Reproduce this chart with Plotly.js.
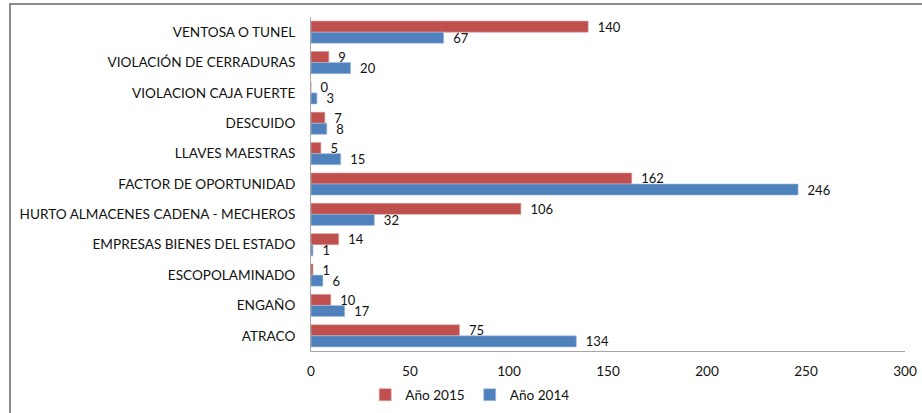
<!DOCTYPE html>
<html>
<head>
<meta charset="utf-8">
<script src="https://cdn.plot.ly/plotly-3.0.1.min.js"></script>
<style>
  html, body { margin: 0; padding: 0; background: #fff; }
  #wrap { position: absolute; left: 0; top: 0; width: 922px; height: 413px; }
  #frame { position: absolute; left: 9px; top: 3px; width: 940px; height: 440px;
           border-left: 2px solid #8a8a8a; border-top: 2px solid #8a8a8a; pointer-events: none; }
  #chart { position: absolute; left: 0; top: 0; width: 922px; height: 413px; }
</style>
</head>
<body>
<div id="wrap">
  <div id="chart"></div>
  <div id="frame"></div>
</div>
<script>
const categories = [
  "VENTOSA O TUNEL",
  "VIOLACIÓN DE CERRADURAS",
  "VIOLACION CAJA FUERTE",
  "DESCUIDO",
  "LLAVES MAESTRAS",
  "FACTOR DE OPORTUNIDAD",
  "HURTO ALMACENES CADENA - MECHEROS",
  "EMPRESAS BIENES DEL ESTADO",
  "ESCOPOLAMINADO",
  "ENGAÑO",
  "ATRACO"
];
const values2015 = [140, 9, 0, 7, 5, 162, 106, 14, 1, 10, 75];
const values2014 = [67, 20, 3, 8, 15, 246, 32, 1, 6, 17, 134];
const seriesNames = ["Año 2015", "Año 2014"];
const xTicks = [0, 50, 100, 150, 200, 250, 300];

const fam = "Lato, 'Open Sans', sans-serif";
const font = { family: fam, size: 13.6, color: "#111" };

function barTrace(name, vals, color, edge) {
  return {
    type: "bar", orientation: "h", name: name,
    y: categories, x: vals,
    marker: { color: color, line: { color: edge, width: 0.6 } },
    text: vals.map(v => "\u2002" + v), textposition: "outside",
    constraintext: "none", cliponaxis: false,
    textfont: { family: fam, size: 13, color: "#111" },
    hoverinfo: "x+y"
  };
}

const traces = [
  barTrace(seriesNames[0], values2015, "#C0504D", "#d9a3a1"),
  barTrace(seriesNames[1], values2014, "#4F81BD", "#a7c0de")
];

const layout = {
  width: 922, height: 413,
  margin: { l: 311, r: 17, t: 17, b: 62 },
  paper_bgcolor: "#fff", plot_bgcolor: "#fff",
  font: font,
  barmode: "group",
  bargap: 0.27, bargroupgap: 0,
  showlegend: true,
  legend: {
    orientation: "h", xref: "container", yref: "container",
    x: 0.51, xanchor: "center", y: 0.044, yanchor: "middle",
    font: { family: fam, size: 13.6, color: "#111" },
    traceorder: "normal", itemwidth: 30
  },
  xaxis: {
    range: [0, 300], tickvals: xTicks, ticktext: xTicks.map(String),
    showgrid: false, zeroline: false,
    showline: true, linecolor: "#a6a6a6", linewidth: 1,
    ticks: "", ticklabelstandoff: 8,
    tickfont: { family: fam, size: 13.6, color: "#111" }
  },
  yaxis: {
    type: "category", autorange: "reversed",
    showgrid: false, zeroline: false,
    showline: true, linecolor: "#a6a6a6", linewidth: 1,
    ticks: "", ticklabelstandoff: 12,
    tickfont: { family: fam, size: 13.6, color: "#111" }
  }
};

Plotly.newPlot("chart", traces, layout, { displayModeBar: false, staticPlot: true });
</script>
</body>
</html>
